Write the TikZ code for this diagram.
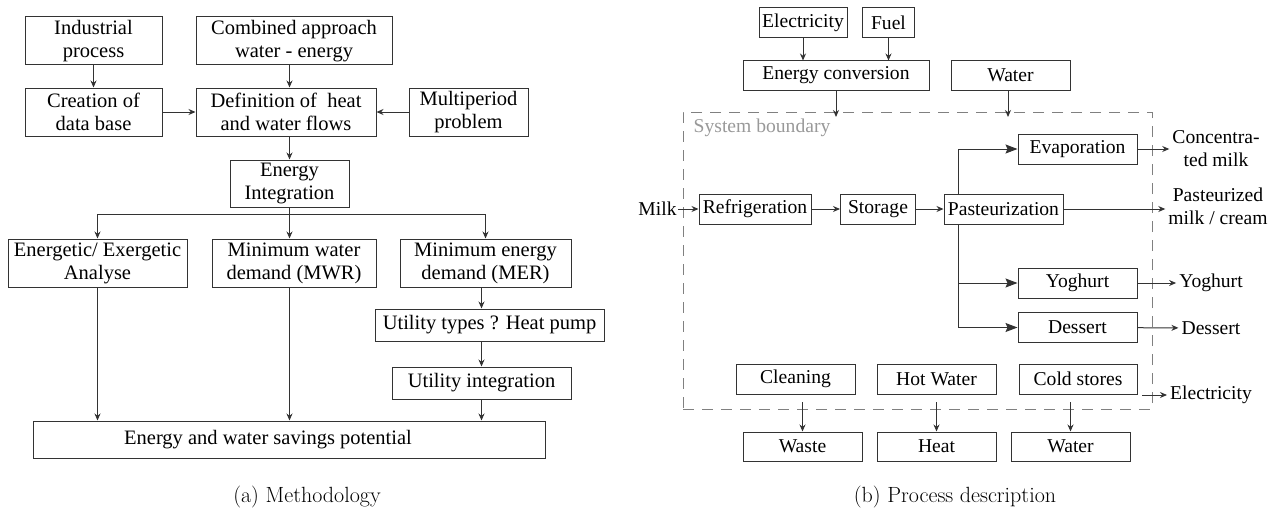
\documentclass[tikz,border=0pt]{standalone}
\usepackage{fontspec}
\newfontfamily\procfont{Liberation Serif}
\usetikzlibrary{arrows.meta}
\usetikzlibrary{positioning}

\begin{document}
\begin{tikzpicture}[x=1pt,y=-1pt,
  box/.style={draw=black!80,line width=1pt,rectangle,inner sep=0pt,align=center,text=black},
  lbox/.style={box,font=\procfont\fontsize{20.5}{23}\selectfont,minimum height=48pt},
  rbox/.style={box,font=\procfont\fontsize{19.6}{23}\selectfont,minimum height=30pt},
  rtext/.style={inner sep=3pt,align=center,font=\procfont\fontsize{19.6}{23}\selectfont,text=black},
  conn/.style={draw=black!80,line width=1pt},
  flow/.style={conn,-{Stealth[length=7pt,width=6pt]}},
  bigflow/.style={conn,-{Stealth[length=12pt,width=9pt,inset=2pt]}},
  bound/.style={draw=black!50,line width=1pt,dash pattern=on 11pt off 8pt,inner sep=0pt},
  caption/.style={inner sep=0pt,font=\fontsize{22}{26}\selectfont}]
  \useasboundingbox (0,0) rectangle (1279,511);

  \node[lbox,minimum width=137pt] (ind) at (93.5,41) {Industrial\\process};
  \node[lbox,minimum width=196pt] (comb) at (294,41) {Combined approach\\water - energy};
  \node[lbox,minimum width=137pt] (cre) at (93.5,112) {Creation of\\data base};
  \node[lbox,minimum width=180pt] (def) at (286,112) {Definition of\ \ heat\\and water flows};
  \node[lbox,minimum width=119pt] (mul) at (468.5,112) {Multiperiod\\problem};
  \node[lbox,minimum width=119pt,minimum height=47pt] (ei) at (289.5,183.5) {Energy\\Integration};
  \node[lbox,minimum width=179pt] (ene) at (97.5,263) {Energetic/ Exergetic\\Analyse};
  \node[lbox,minimum width=164pt] (mwr) at (294,263) {Minimum water\\demand (MWR)};
  \node[lbox,minimum width=171pt] (mer) at (485.5,263) {Minimum energy\\demand (MER)};
  \node[lbox,minimum width=229pt,minimum height=32pt] (ut) at (489.5,325) {Utility types ? Heat pump};
  \node[lbox,minimum width=179pt,minimum height=32pt] (ui) at (481.5,383) {Utility integration};
  \node[lbox,minimum width=512pt,minimum height=37pt] (save) at (289,439.5) {\hspace*{-42pt}Energy and water savings potential};
  \coordinate (br) at (289.5,214);

  \draw[flow] (ind) -- (cre);
  \draw[flow] (comb.south -| ei) -- (def.north -| ei);
  \draw[flow] (cre) -- (def);
  \draw[flow] (mul) -- (def);
  \draw[flow] (def.south -| ei) -- (ei);
  \draw[conn] (ei) -- (br);
  \draw[flow] (br) -| (ene);
  \draw[flow] (br) -| (mer);
  \draw[flow] (br) -- (mwr.north -| br);
  \draw[flow] (mer.south -| ui) -- (ut.north -| ui);
  \draw[flow] (ut.south -| ui) -- (ui);
  \draw[flow] (ui) -- (ui.south |- save.north);
  \draw[flow] (ene) -- (ene.south |- save.north);
  \draw[flow] (mwr.south -| br) -- (save.north -| br);

  \node[rbox,minimum width=88pt] (elec) at (803,23) {Electricity};
  \node[rbox,minimum width=52pt] (fuel) at (888.5,23) {Fuel};
  \node[rbox,minimum width=186pt,minimum height=29pt] (conv) at (836,75.5) {Energy conversion};
  \node[rbox,minimum width=119pt,minimum height=29pt] (wat) at (1010.5,75.5) {Water};
  \node[bound,minimum width=469pt,minimum height=297pt] (sys) at (917.5,260.5) {};
  \node[anchor=base west,inner sep=0pt,text=black!40,font=\procfont\fontsize{19.6}{23}\selectfont]
    (sysl) at ([xshift=11pt,yshift=-21pt]sys.north west) {System boundary};
  \coordinate (in1) at (836,117);
  \coordinate (in2) at (1008,117);

  \node[rtext,inner sep=1pt] (milk) at (657.5,209) {Milk};
  \node[rbox,minimum width=112pt] (refr) at (755,209) {Refrigeration};
  \node[rbox,minimum width=75pt] (sto) at (878,209) {Storage};
  \node[rbox,minimum width=119pt] (pas) at (1003.5,209) {Pasteurization};
  \node[rbox,minimum width=119pt] (evap) at (1077.5,149) {Evaporation};
  \node[rbox,minimum width=119pt] (yog) at (1077.5,283) {Yoghurt};
  \node[rbox,minimum width=119pt] (des) at (1077.5,327.5) {Dessert};

  \node[rtext] (conc) at (1216,149) {Concentra-\\ted milk};
  \node[rtext] (pmc) at (1218,206) {Pasteurized\\milk / cream};
  \node[rtext] (yogo) at (1211,283) {Yoghurt};
  \node[rtext] (deso) at (1211,328) {Dessert};
  \node[rtext] (eleo) at (1211,395) {Electricity};
  \coordinate (eo) at (1142,395);

  \node[rbox,minimum width=119pt] (cle) at (795.5,379) {Cleaning};
  \node[rbox,minimum width=119pt] (hot) at (936.5,379) {Hot Water};
  \node[rbox,minimum width=118pt] (col) at (1078,379) {Cold stores};
  \node[rbox,minimum width=119pt,minimum height=29pt] (was) at (802.5,446.5) {Waste};
  \node[rbox,minimum width=119pt,minimum height=29pt] (hea) at (936.5,446.5) {Heat};
  \node[rbox,minimum width=119pt,minimum height=29pt] (wtr) at (1070.5,446.5) {Water};
  \coordinate (o1) at (802.5,402);
  \coordinate (o2) at (936.5,402);
  \coordinate (o3) at (1070.5,402);

  \draw[flow] (elec) -- (elec |- conv.north);
  \draw[flow] (fuel) -- (fuel |- conv.north);
  \draw[flow] (conv) -- (in1);
  \draw[flow] (wat.south -| in2) -- (in2);
  \draw[flow] (milk) -- (refr);
  \draw[flow] (refr) -- (sto);
  \draw[flow] (sto) -- (pas);
  \draw[bigflow] ([xshift=15pt]pas.north west) |- (evap);
  \draw[bigflow] ([xshift=15pt]pas.south west) |- (yog);
  \draw[bigflow] ([xshift=15pt]pas.south west) |- (des);
  \draw[flow] (evap) -- (conc);
  \draw[flow] (pas) -- (pas -| pmc.west);
  \draw[flow] (yog) -- (yogo);
  \draw[flow] (des) -- (deso);
  \draw[flow] (eo) -- (eleo);
  \draw[flow] (o1) -- (was);
  \draw[flow] (o2) -- (hea);
  \draw[flow] (o3) -- (wtr);

  \node[caption] (capa) at (307,497.5) {(a) Methodology};
  \node[caption] (capb) at (955,497.5) {(b) Process description};
\end{tikzpicture}
\end{document}
